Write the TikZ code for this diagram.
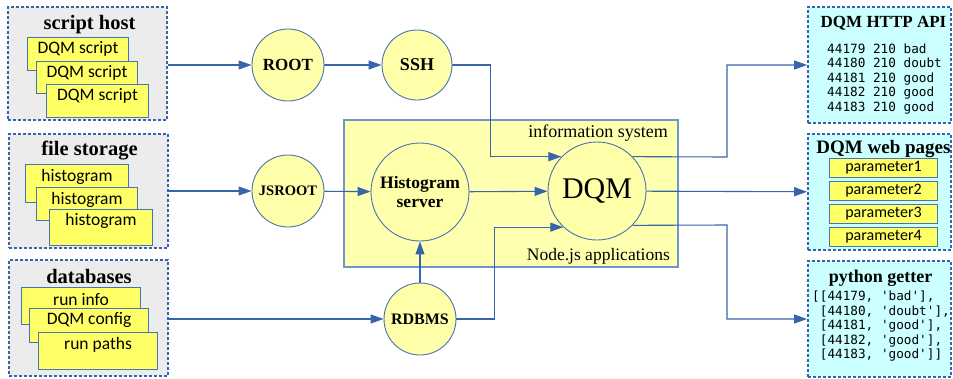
\documentclass[tikz,border=0pt]{standalone}
\usepackage{fontspec}
\setmainfont{Liberation Serif}
\setsansfont{Carlito}
\setmonofont{DejaVu Sans Mono}
\usetikzlibrary{arrows.meta}
\definecolor{dashblue}{RGB}{52,100,172}
\definecolor{lgray}{RGB}{236,236,236}
\definecolor{inyellow}{RGB}{255,255,102}
\definecolor{inblue}{RGB}{70,115,180}
\definecolor{cyellow}{RGB}{255,255,170}
\definecolor{cblue}{RGB}{70,115,180}
\definecolor{boxyellow}{RGB}{255,255,176}
\definecolor{boxblue}{RGB}{110,150,200}
\definecolor{lcyan}{RGB}{204,255,255}
\definecolor{ablue}{RGB}{55,100,170}
\begin{document}
\begin{tikzpicture}[x=1pt,y=-1pt,
  grpbox/.style={draw=dashblue, line width=1.8pt, dash pattern=on 3pt off 2pt, inner sep=0pt},
  leftbox/.style={grpbox, fill=lgray},
  rightbox/.style={grpbox, fill=lcyan},
  inbox/.style={draw=inblue, line width=1.1pt, fill=inyellow, inner sep=0pt, anchor=north west},
  intext/.style={font=\sffamily\fontsize{17.5}{20}\selectfont, inner sep=0pt},
  partext/.style={font=\sffamily\fontsize{16}{18}\selectfont, inner sep=0pt},
  ttl/.style={font=\bfseries\fontsize{20.5}{23}\selectfont, inner sep=0pt},
  circ/.style={circle, draw=cblue, line width=0.9pt, fill=cyellow, inner sep=0pt},
  clab/.style={font=\bfseries\fontsize{17}{19}\selectfont},
  mono/.style={font=\ttfamily\fontsize{12.7}{14.5}\selectfont, align=left, inner sep=0pt, anchor=west},
  arr/.style={draw=ablue, line width=1.1pt, -{Triangle[length=13pt,width=9pt]}}
]
\useasboundingbox (0,0) rectangle (953,378);

% left group boxes
\node[leftbox, minimum width=159pt, minimum height=113pt] (host) at (87.5,63.5) {};
\node[ttl] (hostt) at (89.5,25) {script host};
\node[inbox, minimum width=101pt, minimum height=33pt] (h1) at (27,37) {};
\node[intext] (h1t) at ([yshift=-12pt]h1.north) {DQM script};
\node[inbox, minimum width=101pt, minimum height=32pt] (h2) at (36,61) {};
\node[intext] (h2t) at ([yshift=-12pt]h2.north) {DQM script};
\node[inbox, minimum width=102pt, minimum height=33pt] (h3) at (46,84) {};
\node[intext] (h3t) at ([yshift=-12pt]h3.north) {DQM script};

\node[leftbox, minimum width=159pt, minimum height=114pt] (file) at (88.5,191) {};
\node[ttl] (filet) at (89.5,151) {file storage};
\node[inbox, minimum width=103pt, minimum height=38pt] (f1) at (25,164) {};
\node[intext] (f1t) at ([yshift=-13pt]f1.north) {histogram};
\node[inbox, minimum width=101pt, minimum height=33pt] (f2) at (36,187) {};
\node[intext] (f2t) at ([yshift=-13pt]f2.north) {histogram};
\node[inbox, minimum width=103pt, minimum height=36pt] (f3) at (49,209) {};
\node[intext] (f3t) at ([yshift=-12pt]f3.north) {histogram};

\node[leftbox, minimum width=159pt, minimum height=116pt] (db) at (88.5,318) {};
\node[ttl] (dbt) at (89,276.5) {databases};
\node[inbox, minimum width=119pt, minimum height=37pt] (d1) at (21,287) {};
\node[intext] (d1t) at ([yshift=-13pt]d1.north) {run info};
\node[inbox, minimum width=119pt, minimum height=34pt] (d2) at (29,308) {};
\node[intext] (d2t) at ([yshift=-12pt]d2.north) {DQM config};
\node[inbox, minimum width=119pt, minimum height=37pt] (d3) at (38,332) {};
\node[intext] (d3t) at ([yshift=-13pt]d3.north) {run paths};

% right group boxes
\node[rightbox, minimum width=143pt, minimum height=116pt] (api) at (879.5,65) {};
\node[ttl, font=\bfseries\fontsize{17}{20}\selectfont] (apit) at (883.5,23) {DQM HTTP API};
\node[mono] (apitxt) at (827,79) {44179 210 bad\\44180 210 doubt\\44181 210 good\\44182 210 good\\44183 210 good};

\node[rightbox, minimum width=143pt, minimum height=116pt] (web) at (879.5,192) {};
\node[ttl, font=\bfseries\fontsize{19}{22}\selectfont] (webt) at (883.5,149) {DQM web pages};
\node[inbox, minimum width=108pt, minimum height=19pt] (p1) at (829,158) {};
\node[partext] (p1t) at (p1.center) {parameter1};
\node[inbox, minimum width=108pt, minimum height=19pt] (p2) at (829,181) {};
\node[partext] (p2t) at (p2.center) {parameter2};
\node[inbox, minimum width=108pt, minimum height=19pt] (p3) at (829,204) {};
\node[partext] (p3t) at (p3.center) {parameter3};
\node[inbox, minimum width=108pt, minimum height=19pt] (p4) at (829,227) {};
\node[partext] (p4t) at (p4.center) {parameter4};

\node[rightbox, minimum width=143pt, minimum height=116pt] (py) at (879.5,319) {};
\node[ttl, font=\bfseries\fontsize{18}{21}\selectfont] (pyt) at (880.5,278) {python getter};
\node[mono] (pytxt) at (812,326.5) {[[44179, 'bad'],\\\hphantom{[}[44180, 'doubt'],\\\hphantom{[}[44181, 'good'],\\\hphantom{[}[44182, 'good'],\\\hphantom{[}[44183, 'good']]};

% information system
\node[draw=boxblue, line width=1.3pt, fill=boxyellow, minimum width=334pt, minimum height=147pt, inner sep=0pt] (info) at (511,193.5) {};
\node[font=\fontsize{18}{21}\selectfont, anchor=east, inner sep=0pt] (infot) at (668,133.5) {information system};
\node[font=\fontsize{17.5}{21}\selectfont, anchor=east, inner sep=0pt] (nodet) at (670,256) {Node.js applications};

% circles
\node[circ, minimum size=72pt, clab] (root) at (288,65) {ROOT};
\node[circ, minimum size=70pt, font=\bfseries\fontsize{18}{20}\selectfont] (ssh) at (417,65) {SSH};
\node[circ, minimum size=72pt, font=\bfseries\fontsize{14.5}{17}\selectfont] (jsroot) at (288,191) {JSROOT};
\node[circ, minimum size=72pt, font=\bfseries\fontsize{16}{18}\selectfont] (rdbms) at (420,319) {RDBMS};
\node[circ, minimum size=98pt, align=center, font=\bfseries\fontsize{17.5}{19}\selectfont] (hist) at (420,192) {Histogram\\server};
\node[circ, minimum size=98pt, font=\fontsize{30}{33}\selectfont] (dqm) at (597,191) {DQM};

% connectors
\draw[arr] (host.east |- root.west) -- (root.west);
\draw[arr] (root) -- (ssh);
\draw[arr] (ssh.east) -- ++(38,0) |- (dqm.136);
\draw[arr] (file.east |- jsroot.west) -- (jsroot.west);
\draw[arr] (jsroot) -- (hist);
\draw[arr] (hist) -- (dqm);
\draw[arr] (db.east |- rdbms.west) -- (rdbms.west);
\draw[arr] (rdbms) -- (hist);
\draw[arr] (rdbms.east) -- ++(38,0) |- (dqm.227);
\draw[arr] (dqm.44) -- (727,157) |- (api.west);
\draw[arr] (dqm) -- (web);
\draw[arr] (dqm.-44) -- (727,225) |- (py.west);
\end{tikzpicture}
\end{document}
